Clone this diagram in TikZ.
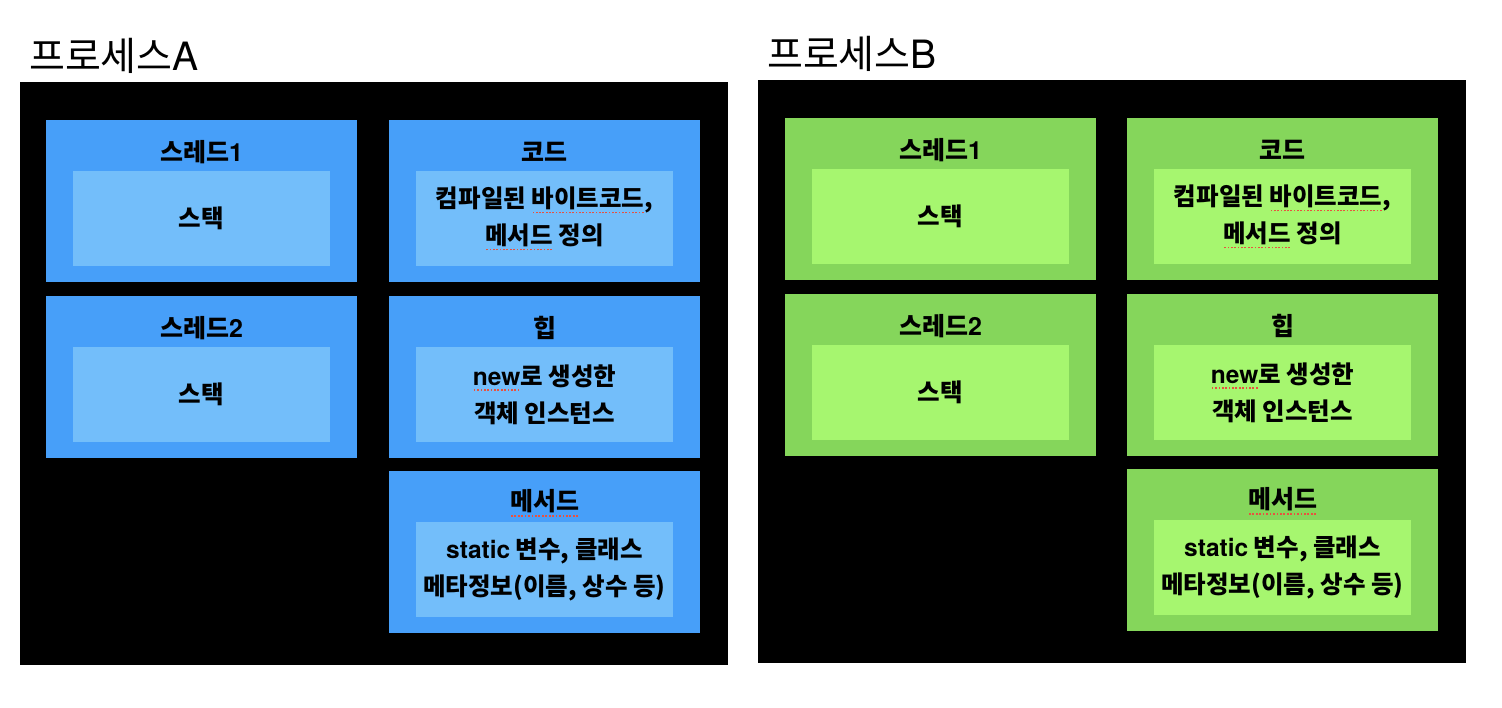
\documentclass[tikz,border=0pt]{standalone}
\usepackage{fontspec}
\setmainfont{Noto Sans CJK KR}
\newfontfamily\latfont{TeX Gyre Heros}
\definecolor{blueO}{HTML}{479FF9}
\definecolor{blueI}{HTML}{73BEFA}
\definecolor{greenO}{HTML}{85D65B}
\definecolor{greenI}{HTML}{A6F66F}
\definecolor{spellred}{HTML}{E8523F}
\newcommand\spl[1]{\setbox0\hbox{#1}\rlap{\color{spellred}\hbox to \wd0{\xleaders\hbox to 3.3pt{\hss\rule[-6pt]{1.7pt}{1.7pt}\hss}\hfil}}\box0\relax}
\newcommand\lat[1]{{\latfont\mdseries #1}}
\newcommand\latb[1]{{\latfont\bfseries #1}}
\tikzset{
  procbox/.style={fill=black, draw=none, inner sep=0pt, outer sep=0pt, anchor=north west, minimum width=708pt, minimum height=583pt},
  proctitle/.style={inner sep=0pt, anchor=west, font=\fontsize{39}{44}\selectfont},
  outerbox/.style={draw=none, inner sep=0pt, outer sep=0pt, anchor=north west, minimum width=311pt, minimum height=162pt},
  innerbox/.style={draw=none, inner sep=0pt, outer sep=0pt, anchor=north west, minimum width=257pt, minimum height=95pt, align=center, font=\bfseries\fontsize{24.5}{37}\selectfont},
  boxtitle/.style={inner sep=0pt, font=\bfseries\fontsize{25}{30}\selectfont}
}
% #1 name, #2 x, #3 y, #4 outer colour, #5 inner colour, #6 title, #7 body
\newcommand\memblock[7]{%
  \node[outerbox, fill=#4] (#1-o) at (#2,#3) {};
  \node[innerbox, fill=#5] (#1-i) at (#2+27,#3+51) {#7};
  \node[boxtitle] (#1-t) at (#2+155.5,#3+32) {#6};
}
\begin{document}
\begin{tikzpicture}[x=1pt,y=-1pt]
\useasboundingbox[fill=white] (0,0) rectangle (1502,708);
% Process A
\node[proctitle] (titleA) at (29,56) {프로세스\lat{A}};
\node[procbox] (procA) at (20,82) {};
\memblock{a1}{46}{120}{blueO}{blueI}{스레드\latb{1}}{스택}
\memblock{a2}{46}{296}{blueO}{blueI}{스레드\latb{2}}{스택}
\memblock{ac}{389}{120}{blueO}{blueI}{코드}{컴파일된 \spl{바이트코드},\\\spl{메서드} 정의}
\memblock{ah}{389}{296}{blueO}{blueI}{힙}{\spl{\latb{new}}로 생성한\\객체 인스턴스}
\memblock{am}{389}{471}{blueO}{blueI}{\spl{메서드}}{\latb{static} 변수, 클래스\\메타정보(이름, 상수 등)}
% Process B
\node[proctitle] (titleB) at (767,54) {프로세스\lat{B}};
\node[procbox] (procB) at (758,80) {};
\memblock{b1}{785}{118}{greenO}{greenI}{스레드\latb{1}}{스택}
\memblock{b2}{785}{294}{greenO}{greenI}{스레드\latb{2}}{스택}
\memblock{bc}{1127}{118}{greenO}{greenI}{코드}{컴파일된 \spl{바이트코드},\\\spl{메서드} 정의}
\memblock{bh}{1127}{294}{greenO}{greenI}{힙}{\spl{\latb{new}}로 생성한\\객체 인스턴스}
\memblock{bm}{1127}{469}{greenO}{greenI}{\spl{메서드}}{\latb{static} 변수, 클래스\\메타정보(이름, 상수 등)}
\end{tikzpicture}
\end{document}
